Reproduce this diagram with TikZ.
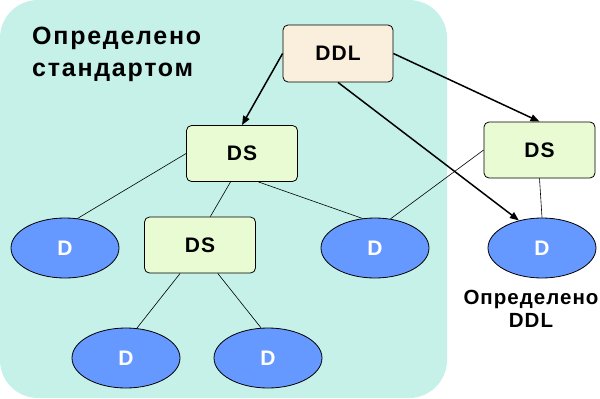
\documentclass[tikz,border=0pt]{standalone}
\usepackage{fontspec}
\setmainfont{Liberation Sans}
\newfontfamily\wide[LetterSpace=5]{Liberation Sans}
\newfontfamily\wider[LetterSpace=7]{Liberation Sans}
\usetikzlibrary{arrows.meta,shapes.geometric}
\definecolor{bgc}{HTML}{C5F1E9}
\definecolor{ddlc}{HTML}{FAEFDD}
\definecolor{dsc}{HTML}{E8FBD2}
\definecolor{dc}{HTML}{6699FF}
\begin{document}
\begin{tikzpicture}[x=1pt,y=-1pt,
  boxd/.style={draw=black,line width=0.8pt,rounded corners=5pt,inner sep=0pt,font=\wide\bfseries\fontsize{21}{20}\selectfont},
  ddlbox/.style={boxd,fill=ddlc,minimum width=110pt,minimum height=57pt},
  dsbox/.style={boxd,fill=dsc,minimum width=111pt,minimum height=56pt},
  dnode/.style={ellipse,draw=black,line width=0.8pt,fill=dc,minimum width=108pt,minimum height=60pt,inner sep=0pt,text=white,font=\wide\bfseries\fontsize{21}{20}\selectfont},
  thin/.style={line width=0.6pt},
  arr/.style={line width=1.5pt,-{Triangle[length=9pt,width=7pt]}},
  lab/.style={font=\wide\bfseries\fontsize{20.5}{23}\selectfont,align=center}]
\useasboundingbox (0,0) rectangle (600,399);
\fill[bgc,rounded corners=38pt] (0,0) rectangle (447,398);
\node[font=\wider\bfseries\fontsize{25}{32}\selectfont,align=left,anchor=north west,inner sep=0pt] (title) at (32,27) {Определено\\стандартом};
\node[ddlbox] (ddl) at (338,53.5) {DDL};
\node[dsbox] (ds1) at (242,153.5) {DS};
\node[dsbox] (ds2) at (539.5,150) {DS};
\node[dsbox] (ds3) at (200,245) {DS};
\node[dnode] (d1) at (65,248) {D};
\node[dnode] (d2) at (375,248) {D};
\node[dnode] (d3) at (542,248) {D};
\node[dnode] (d4) at (126,358) {D};
\node[dnode] (d5) at (268,358) {D};
\node[lab] (cap) at (531,309) {Определено\\DDL};
\draw[thin] (ds1.west) -- (d1.67);
\draw[thin] (ds1.248) -- (ds3.70);
\draw[thin] (ds1.300) -- (d2.113);
\draw[thin] (ds2.west) -- (d2.62);
\draw[thin] (ds2.south) -- (d3.north);
\draw[thin] (ds3.235) -- (d4.70);
\draw[thin] (ds3.302) -- (d5.103);
\draw[arr] (ddl.west) -- (ds1.north);
\draw[arr] (ddl.east) -- (ds2.north);
\draw[arr] (ddl.south) -- (d3.130);
\end{tikzpicture}
\end{document}
